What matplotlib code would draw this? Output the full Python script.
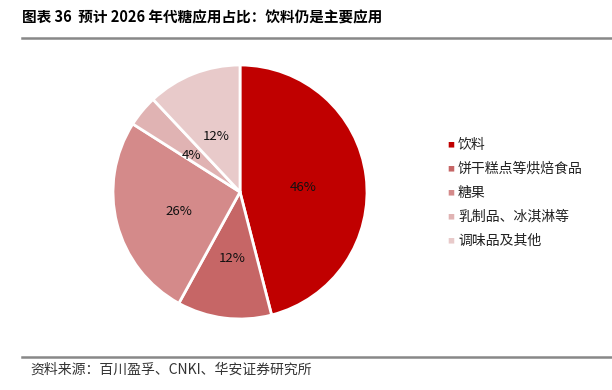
import matplotlib.pyplot as plt
from matplotlib.lines import Line2D

plt.rcParams['font.family'] = ['Noto Sans CJK SC', 'DejaVu Sans']

categories = ['饮料', '饼干糕点等烘焙食品', '糖果', '乳制品、冰淇淋等', '调味品及其他']
shares = [46, 12, 26, 4, 12]
colors = ['#C00000', '#C66666', '#D48A8A', '#E0B3B3', '#E8CACA']

W, H = 612, 390
fig = plt.figure(figsize=(W / 100, H / 100), dpi=100)

# 标题和分隔线
fig.text(22 / W, 1 - 17 / H, '图表 36  预计 2026 年代糖应用占比：饮料仍是主要应用',
         fontsize=10.5, fontweight='bold', va='center', ha='left')
fig.add_artist(Line2D([22 / W, 1], [1 - 38 / H] * 2, color='#888888', lw=1.8))
fig.add_artist(Line2D([22 / W, 1], [1 - 357 / H] * 2, color='#888888', lw=1.8))
fig.text(30 / W, 1 - 370 / H, '资料来源：百川盈孚、CNKI、华安证券研究所',
         fontsize=10, color='#333333', va='center', ha='left')

# 饼图
cx, cy, r = 240, 192, 127
ax = fig.add_axes([(cx - r) / W, (H - cy - r) / H, 2 * r / W, 2 * r / H])
wedges, texts, autotexts = ax.pie(
    shares, colors=colors, startangle=90, counterclock=False,
    autopct='%d%%', pctdistance=0.5,
    wedgeprops=dict(edgecolor='white', linewidth=2),
    textprops=dict(fontsize=9.5, color='#111111'))
for t in autotexts:
    x, y = t.get_position()
    t.set_position((x, y - 0.03))
ax.set_xlim(-1, 1)
ax.set_ylim(-1, 1)
ax.set_aspect('equal')
ax.axis('off')

# 图例
for i, (name, c) in enumerate(zip(categories, colors)):
    y = 1 - (145 + 24 * i) / H
    fig.text(451 / W, y, '■', color=c, fontsize=5, va='center', ha='center')
    fig.text(458 / W, y, name, fontsize=10, color='#222222', va='center', ha='left')

fig.savefig('out.png', dpi=100)
